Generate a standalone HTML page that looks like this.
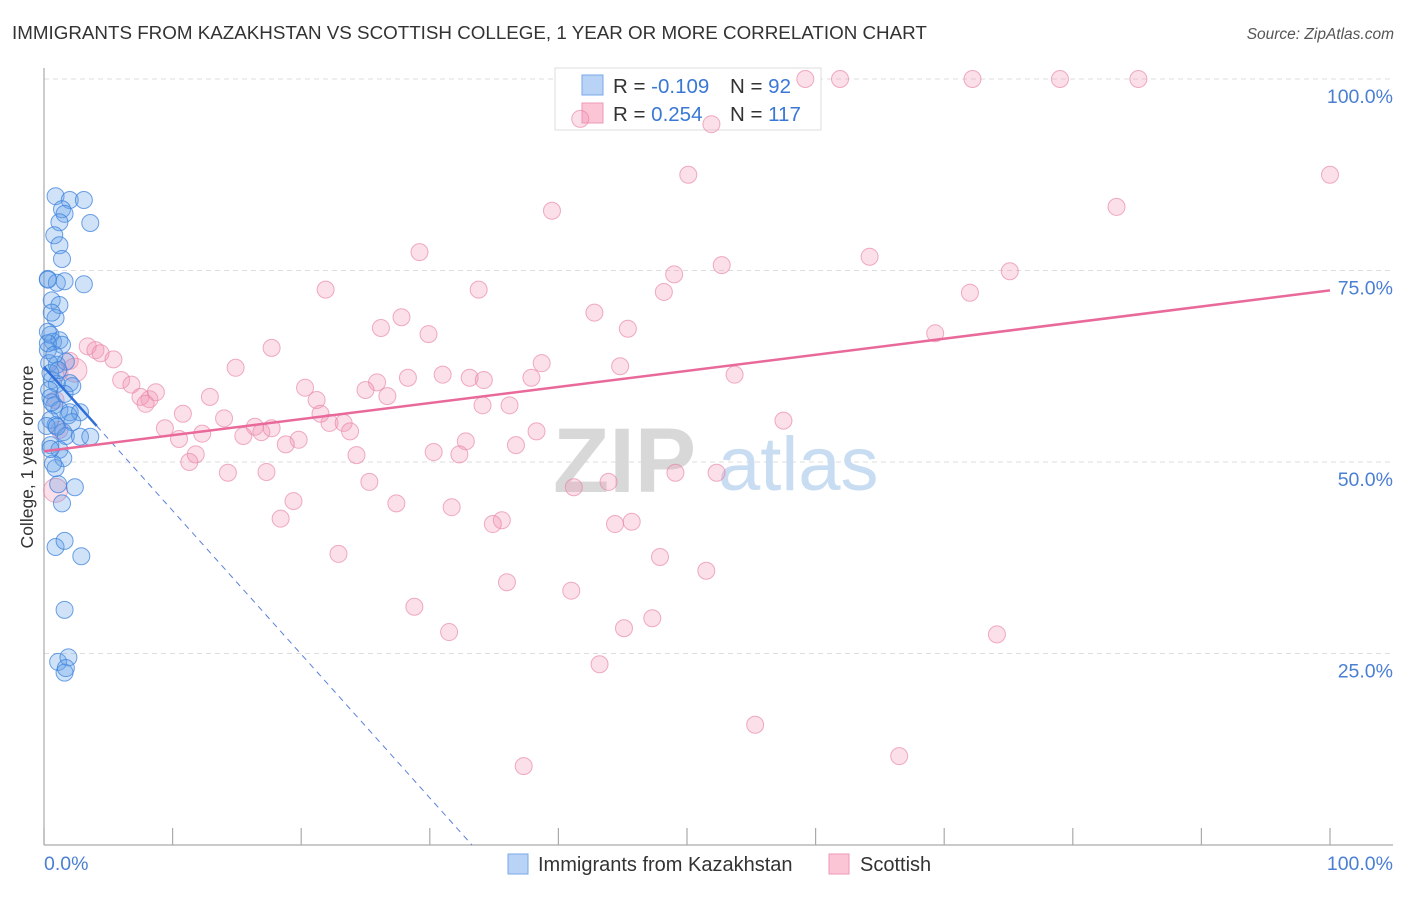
<!DOCTYPE html>
<html><head><meta charset="utf-8"><style>
body{margin:0;background:#fff;font-family:"Liberation Sans",sans-serif;}
svg text{font-family:"Liberation Sans",sans-serif;}
</style></head><body>
<svg id="chart" width="1406" height="892">
<text x="12" y="39" font-size="18.8" fill="#333">IMMIGRANTS FROM KAZAKHSTAN VS SCOTTISH COLLEGE, 1 YEAR OR MORE CORRELATION CHART</text>
<text x="1394" y="39" font-size="15.5" fill="#555" font-style="italic" text-anchor="end">Source: ZipAtlas.com</text>
<g id="grid"></g>
<g>
<text x="553" y="492" font-size="92" font-family="Liberation Serif" fill="#d8d8d8" font-weight="bold">ZIP</text>
<text x="718" y="490" font-size="76" fill="#c8dcf2">atlas</text>
</g>
<line x1="44" y1="68" x2="44" y2="845" stroke="#aaa" stroke-width="1.2"/>
<line x1="44" y1="845" x2="1393" y2="845" stroke="#aaa" stroke-width="1.2"/>
<g id="xticks"></g>
<g id="ylabels"></g>
<text x="44" y="870" font-size="19.5" fill="#4a7fd4">0.0%</text>
<text x="1393" y="870" font-size="19.5" fill="#4a7fd4" text-anchor="end">100.0%</text>
<text transform="translate(33,457) rotate(-90)" font-size="17.5" fill="#333" text-anchor="middle">College, 1 year or more</text>
<g>
<rect x="555" y="68" width="266" height="62" fill="#fff" stroke="#ddd"/>
<rect x="582" y="75" width="21" height="20" fill="#b8d3f5" stroke="#7aaae8"/>
<rect x="582" y="103" width="21" height="20" fill="#fbc5d6" stroke="#ee9ab8"/>
<text x="613" y="93" font-size="20.5" fill="#333">R = <tspan fill="#3a78d6">-0.109</tspan></text>
<text x="730" y="93" font-size="20.5" fill="#333">N = <tspan fill="#3a78d6"> 92</tspan></text>
<text x="613" y="121" font-size="20.5" fill="#333">R = <tspan fill="#3a78d6"> 0.254</tspan></text>
<text x="730" y="121" font-size="20.5" fill="#333">N = <tspan fill="#3a78d6">117</tspan></text>
</g>
<g id="pink"></g>
<g id="blue"></g>
<g id="trends"></g>
<g>
<rect x="508" y="854" width="20" height="20" fill="#b8d3f5" stroke="#7aaae8"/>
<text x="538" y="871" font-size="20" fill="#333">Immigrants from Kazakhstan</text>
<rect x="829" y="854" width="20" height="20" fill="#fbc5d6" stroke="#ee9ab8"/>
<text x="860" y="871" font-size="20" fill="#333">Scottish</text>
</g>
</svg>
<script>
const yTicks=[25,50,75,100];
const yTickLabels=["25.0%","50.0%","75.0%","100.0%"];
const xTickVals=[0,10,20,30,40,50,60,70,80,90,100];
const pinkX=[59.2,61.9,72.2,79.0,85.1,41.7,51.9,50.1,100,39.5,83.4,29.2,64.2,52.7,49.0,75.1,21.9,33.8,48.2,72.0,42.8,27.8,26.2,45.4,29.9,69.3,17.7,3.4,4.0,4.4,5.4,14.9,38.7,44.8,53.7,6.0,6.8,12.9,8.2,8.7,7.5,25.9,28.3,31.0,33.1,34.2,37.9,20.3,25.0,26.7,7.9,10.8,9.4,14.0,21.2,22.2,23.3,21.5,23.8,16.4,16.9,15.5,17.7,19.8,18.8,12.3,10.5,34.1,36.2,38.3,32.8,57.5,11.8,11.3,24.3,30.3,32.3,36.7,14.3,17.3,49.1,52.3,25.3,43.9,41.2,19.4,27.4,31.7,18.4,35.6,34.9,44.4,45.7,22.9,47.9,51.5,36.0,41.0,28.8,47.3,45.1,31.5,74.1,43.2,55.3,66.5,37.3,2.0,1.2,0.9,2.4,0.9,1.2];
const pinkY=[100,100,100,100,100,94.8,94.1,87.5,87.5,82.8,83.3,77.4,76.8,75.7,74.5,74.9,72.5,72.5,72.2,72.1,69.5,68.9,67.5,67.4,66.7,66.8,64.9,65.1,64.6,64.2,63.4,62.3,62.9,62.5,61.4,60.7,60.1,58.5,58.2,59.1,58.5,60.4,61.0,61.4,61.0,60.7,61.0,59.7,59.4,58.6,57.6,56.3,54.4,55.7,58.1,55.1,55.1,56.3,54.0,54.6,53.9,53.4,54.4,52.9,52.3,53.7,53.0,57.4,57.4,54.0,52.7,55.4,51.0,50.0,50.9,51.3,51.0,52.2,48.6,48.7,48.6,48.6,47.4,47.4,46.7,44.9,44.6,44.1,42.6,42.4,41.9,41.9,42.2,38.0,37.6,35.8,34.3,33.2,31.1,29.6,28.3,27.8,27.5,23.6,15.7,11.6,10.3,63.2,61.7,58.1,62.0,46.3,54.2];
const blueX=[0.9,2.0,3.1,1.4,1.6,1.2,3.6,0.8,1.2,1.4,0.3,1.0,1.6,3.1,0.6,1.2,0.9,0.5,0.7,1.2,1.4,0.3,1.0,1.7,0.6,1.0,2.0,2.2,0.4,0.5,0.8,1.2,2.0,0.5,0.9,1.9,2.8,1.5,1.7,2.8,3.6,0.5,1.2,1.5,0.9,1.1,2.4,1.4,0.9,1.6,2.9,1.6,1.1,1.9,1.6,1.7,0.3,0.6,0.3,0.4,0.5,0.6,0.2,0.7,0.5,1.0,1.6,2.2,0.3,0.8,1.1];
const blueY=[84.7,84.2,84.2,83.0,82.4,81.3,81.2,79.6,78.3,76.5,73.9,73.4,73.6,73.2,71.1,70.5,68.8,66.6,65.7,65.9,65.3,64.6,62.7,63.1,60.7,60.2,60.3,59.9,59.4,58.4,57.4,56.8,56.5,55.5,54.8,56.1,56.5,53.9,53.4,53.3,53.3,52.2,51.6,50.5,49.2,47.1,46.7,44.6,38.9,39.7,37.7,30.7,23.9,24.5,22.5,23.1,73.8,69.5,67.0,62.9,61.6,57.8,54.7,49.8,51.7,54.6,58.9,55.2,65.5,64.0,62.0];
const blueTrend=[62.4,-1.875];
const pinkTrend=[51.4,0.21];
const X0=44,X1=1330,Y0=845,Y100=79;
const sx=v=>X0+(X1-X0)*v/100;
const sy=v=>Y0-(Y0-Y100)*v/100;
const NS="http://www.w3.org/2000/svg";
function mk(tag,attrs,parent){const e=document.createElementNS(NS,tag);for(const k in attrs)e.setAttribute(k,attrs[k]);parent.appendChild(e);return e;}
const grid=document.getElementById('grid'),yl=document.getElementById('ylabels'),xt=document.getElementById('xticks');
yTicks.forEach((t,i)=>{
 const l=mk('line',{x1:44,x2:1393,y1:sy(t),y2:sy(t),stroke:'#ddd','stroke-dasharray':'5,4'},grid);
 
 
 const tx=mk('text',{x:1393,y:sy(t)+24,'font-size':19.5,fill:'#4a7fd4','text-anchor':'end'},yl);
 tx.textContent=yTickLabels[i];
 
 
});
xTickVals.forEach(v=>{
 const l=mk('line',{x1:sx(v),x2:sx(v),y1:828,y2:845,stroke:'#aaa','stroke-width':1.2},xt);
 
 
});
const pg=document.getElementById('pink');
pinkX.forEach((x,i)=>{
 const big=(i===pinkX.length-3||i===pinkX.length-2);
 const c=mk('circle',{cx:sx(x),cy:sy(pinkY[i]),r:big?12:8.5,fill:'rgba(243,150,182,0.3)',stroke:'rgba(232,130,165,0.65)','stroke-width':1},pg);
 
 
});
const bg=document.getElementById('blue');
blueX.forEach((x,i)=>{
 const c=mk('circle',{cx:sx(x),cy:sy(blueY[i]),r:8.5,fill:'rgba(100,160,232,0.3)',stroke:'rgba(60,130,220,0.75)','stroke-width':1},bg);
 
 
});
const tg=document.getElementById('trends');
const bf=v=>blueTrend[0]+blueTrend[1]*v;
const xEnd=-blueTrend[0]/blueTrend[1];
const bd=mk('line',{x1:sx(4.1),y1:sy(bf(4.1)),x2:sx(xEnd),y2:sy(0),stroke:'#5a80d8','stroke-width':1,'stroke-dasharray':'6,5'},tg);


const bs=mk('line',{x1:sx(0),y1:sy(bf(0)),x2:sx(4.1),y2:sy(bf(4.1)),stroke:'#2f6fd8','stroke-width':2.5},tg);


const pf=v=>pinkTrend[0]+pinkTrend[1]*v;
const pl=mk('line',{x1:sx(0),y1:sy(pf(0)),x2:sx(100),y2:sy(pf(100)),stroke:'#e8699a','stroke-width':2.5},tg);


</script>
</body></html>
